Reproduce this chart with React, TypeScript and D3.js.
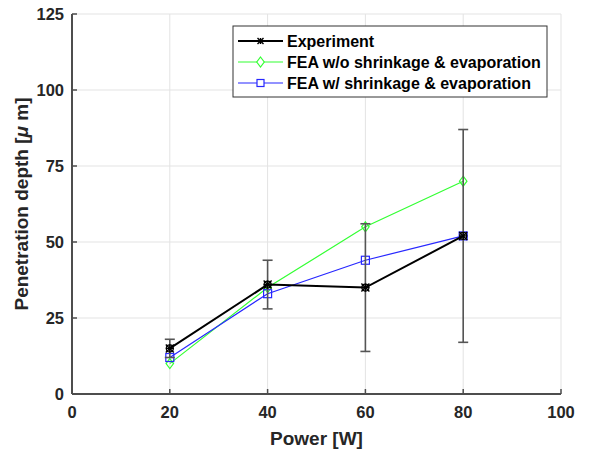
import * as d3 from "d3";

const power = [20, 40, 60, 80];
const experiment = [15, 36, 35, 52];
const expLow = [12, 28, 14, 17];
const expHigh = [18, 44, 56, 87];
const feaWithout = [10, 35, 55, 70];
const feaWith = [12, 33, 44, 52];
const xTicks = [0, 20, 40, 60, 80, 100];
const yTicks = [0, 25, 50, 75, 100, 125];

const W = 590;
const H = 451;
const margin = { top: 14, right: 29, bottom: 57, left: 72 };

const App = () => {
  const x = d3.scaleLinear().domain([0, 100]).range([margin.left, W - margin.right]);
  const y = d3.scaleLinear().domain([0, 125]).range([H - margin.bottom, margin.top]);

  const line = d3
    .line<number>()
    .x((d, i) => x(power[i]))
    .y((d) => y(d));

  const font = "'Liberation Sans', Arial, sans-serif";
  const axisColor = "#4d4d4d";
  const green = "#33ff33";
  const blue = "#2727ff";

  const star = (cx: number, cy: number, s: number, color: string, w: number) => (
    <g stroke={color} strokeWidth={w}>
      <line x1={cx - s} y1={cy - s} x2={cx + s} y2={cy + s} />
      <line x1={cx - s} y1={cy + s} x2={cx + s} y2={cy - s} />
      <line x1={cx - s} y1={cy} x2={cx + s} y2={cy} />
      <line x1={cx} y1={cy - s} x2={cx} y2={cy + s} />
    </g>
  );
  const diamond = (cx: number, cy: number, s: number) =>
    `M${cx},${cy - s}L${cx + s * 0.75},${cy}L${cx},${cy + s}L${cx - s * 0.75},${cy}Z`;

  const legendItems = [
    { label: "Experiment", color: "#000", kind: "star" },
    { label: "FEA w/o shrinkage & evaporation", color: green, kind: "diamond" },
    { label: "FEA w/ shrinkage & evaporation", color: blue, kind: "square" },
  ];

  return (
    <svg width={W} height={H} style={{ position: "absolute", left: 0, top: 0 }}>
      <rect width={W} height={H} fill="#fff" />
      {/* grid */}
      {xTicks.map((t) => (
        <line key={"gx" + t} x1={x(t)} x2={x(t)} y1={y(0)} y2={y(125)} stroke="#e3e3e3" strokeWidth={1} />
      ))}
      {yTicks.map((t) => (
        <line key={"gy" + t} x1={x(0)} x2={x(100)} y1={y(t)} y2={y(t)} stroke="#e3e3e3" strokeWidth={1} />
      ))}
      {/* axes */}
      <line x1={x(0)} x2={x(100)} y1={y(0)} y2={y(0)} stroke={axisColor} strokeWidth={2} />
      <line x1={x(0)} x2={x(0)} y1={y(0)} y2={y(125)} stroke={axisColor} strokeWidth={2} />
      {xTicks.map((t) => (
        <g key={"tx" + t}>
          <line x1={x(t)} x2={x(t)} y1={y(0)} y2={y(0) - 5} stroke={axisColor} strokeWidth={1.5} />
          <text x={x(t)} y={y(0) + 24} textAnchor="middle" fontFamily={font} fontWeight="bold" fontSize={16.5} fill="#262626">
            {t}
          </text>
        </g>
      ))}
      {yTicks.map((t) => (
        <g key={"ty" + t}>
          <line x1={x(0)} x2={x(0) + 5} y1={y(t)} y2={y(t)} stroke={axisColor} strokeWidth={1.5} />
          <text x={x(0) - 8} y={y(t) + 6} textAnchor="end" fontFamily={font} fontWeight="bold" fontSize={16.5} fill="#262626">
            {t}
          </text>
        </g>
      ))}
      <text x={(x(0) + x(100)) / 2} y={445} textAnchor="middle" fontFamily={font} fontWeight="bold" fontSize={19} fill="#262626">
        Power [W]
      </text>
      <text
        transform={`translate(28,${(y(0) + y(125)) / 2}) rotate(-90)`}
        textAnchor="middle"
        fontFamily={font}
        fontWeight="bold"
        fontSize={19}
        fill="#262626"
      >
        Penetration depth [<tspan fontStyle="italic">μ</tspan> m]
      </text>

      {/* FEA w/o */}
      <path d={line(feaWithout) || ""} fill="none" stroke={green} strokeWidth={1.2} />
      {feaWithout.map((v, i) => (
        <path key={"d" + i} d={diamond(x(power[i]), y(v), 5)} fill="none" stroke={green} strokeWidth={1.2} />
      ))}
      {/* FEA w/ */}
      <path d={line(feaWith) || ""} fill="none" stroke={blue} strokeWidth={1.2} />
      {feaWith.map((v, i) => (
        <rect key={"s" + i} x={x(power[i]) - 4} y={y(v) - 4} width={8} height={8} fill="none" stroke={blue} strokeWidth={1.2} />
      ))}
      {/* Experiment error bars */}
      {power.map((p, i) => (
        <g key={"e" + i} stroke="#555" strokeWidth={1.6}>
          <line x1={x(p)} x2={x(p)} y1={y(expLow[i])} y2={y(expHigh[i])} />
          <line x1={x(p) - 5} x2={x(p) + 5} y1={y(expLow[i])} y2={y(expLow[i])} />
          <line x1={x(p) - 5} x2={x(p) + 5} y1={y(expHigh[i])} y2={y(expHigh[i])} />
        </g>
      ))}
      <path d={line(experiment) || ""} fill="none" stroke="#000" strokeWidth={2} />
      {experiment.map((v, i) => (
        <g key={"m" + i}>
          <circle cx={x(power[i])} cy={y(v)} r={3.5} fill="none" stroke="#000" strokeWidth={1.2} />
          {star(x(power[i]), y(v), 4, "#000", 1.4)}
        </g>
      ))}

      {/* legend */}
      <rect x={233} y={26} width={314} height={71} fill="#fff" stroke="#333" strokeWidth={1} />
      {legendItems.map((it, i) => {
        const ly = 41 + i * 21;
        return (
          <g key={it.label}>
            <line x1={238} x2={283} y1={ly} y2={ly} stroke={it.color} strokeWidth={it.kind === "star" ? 2 : 1.2} />
            {it.kind === "star" && star(260.5, ly, 3, "#000", 1.4)}
            {it.kind === "diamond" && <path d={diamond(260.5, ly, 5)} fill="#fff" stroke={green} strokeWidth={1.2} />}
            {it.kind === "square" && <rect x={257} y={ly - 3.5} width={7} height={7} fill="#fff" stroke={blue} strokeWidth={1.2} />}
            <text x={287} y={ly + 5.5} fontFamily={font} fontWeight="bold" fontSize={16} fill="#000">
              {it.label}
            </text>
          </g>
        );
      })}
    </svg>
  );
};

export default App;
